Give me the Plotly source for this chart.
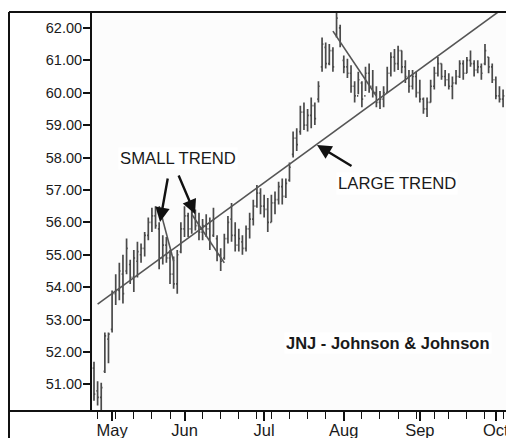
import pandas as pd
import plotly.graph_objects as go

# ---------------- data (JNJ daily bars) ----------------
start_date = "2009-04-24"
end_date = "2009-10-05"
holidays = ["2009-05-25", "2009-07-03", "2009-09-07"]

high = [51.70, 51.10, 51.05, 52.60, 52.60, 53.90, 54.40, 54.75, 55.00, 55.50,
        54.85, 55.15, 55.40, 55.35, 55.70, 56.15, 56.45, 56.50, 56.00, 55.60,
        55.55, 55.15, 54.95, 55.15, 56.00, 56.50, 56.30, 56.50, 56.40, 56.30,
        56.10, 56.25, 56.15, 56.45, 55.60, 55.20, 55.65, 56.20, 56.60, 56.00,
        55.80, 55.60, 55.90, 56.30, 56.70, 57.15, 57.05, 56.85, 56.75, 56.85,
        56.95, 57.25, 57.35, 57.35, 57.85, 58.80, 58.90, 59.60, 59.70, 59.50,
        59.85, 59.70, 60.35, 61.70, 61.55, 61.50, 61.40, 62.75, 62.10, 61.15,
        61.05, 60.85, 60.35, 60.65, 60.35, 60.80, 60.90, 60.70, 60.20, 60.05,
        60.20, 60.80, 61.25, 61.35, 61.45, 61.30, 61.00, 60.70, 60.70, 60.65,
        60.40, 59.85, 59.85, 60.40, 60.80, 61.10, 60.90, 60.70, 60.60, 60.50,
        60.70, 61.00, 61.00, 61.10, 61.30, 61.00, 61.00, 60.90, 61.50, 61.10,
        60.90, 60.50, 60.20, 60.10]
low = [50.50, 50.35, 50.20, 51.35, 51.65, 52.60, 53.45, 53.60, 53.50, 54.40,
       54.10, 53.85, 54.30, 54.75, 54.95, 55.45, 55.70, 55.80, 54.55, 54.70,
       54.75, 54.10, 53.95, 53.80, 55.05, 55.55, 55.55, 55.65, 55.75, 55.45,
       55.45, 55.55, 55.15, 55.55, 54.80, 54.50, 54.85, 55.35, 55.40, 55.10,
       55.10, 55.00, 55.10, 55.50, 55.90, 56.45, 56.25, 56.15, 55.70, 56.00,
       56.25, 56.55, 56.55, 56.75, 57.25, 58.00, 58.20, 58.70, 58.85, 58.80,
       58.90, 59.00, 59.70, 60.65, 60.75, 60.85, 60.65, 61.70, 61.40, 60.60,
       60.45, 60.00, 59.70, 59.95, 59.55, 60.05, 60.00, 59.85, 59.55, 59.50,
       59.55, 60.00, 60.50, 60.65, 60.70, 60.60, 60.30, 60.00, 60.10, 59.85,
       59.70, 59.35, 59.25, 59.70, 60.10, 60.50, 60.40, 60.20, 60.10, 59.80,
       60.25, 60.45, 60.40, 60.60, 60.80, 60.50, 60.60, 60.40, 60.85, 60.60,
       60.30, 59.80, 59.70, 59.55]
open_ = [51.50, 50.80, 50.60, 51.40, 52.40, 52.70, 53.80, 53.90, 54.40, 54.50,
         54.70, 54.30, 54.80, 55.00, 55.20, 55.60, 56.00, 56.20, 55.80, 54.90,
         55.30, 54.90, 54.40, 54.10, 55.10, 55.80, 56.20, 55.80, 56.30, 55.90,
         55.70, 55.90, 55.80, 55.60, 55.50, 55.00, 54.90, 55.50, 56.10, 55.60,
         55.30, 55.40, 55.20, 55.80, 56.10, 56.50, 56.90, 56.50, 56.40, 56.00,
         56.60, 56.70, 57.10, 56.80, 57.30, 58.10, 58.60, 58.80, 59.40, 59.00,
         59.30, 59.60, 59.80, 60.80, 61.40, 60.90, 61.30, 61.80, 62.00, 61.00,
         60.80, 60.60, 60.20, 59.90, 60.30, 59.90, 60.60, 60.20, 60.00, 59.70,
         59.80, 60.00, 60.60, 61.10, 60.90, 61.30, 60.80, 60.50, 60.20, 60.50,
         60.00, 59.80, 59.50, 59.70, 60.20, 60.60, 60.90, 60.50, 60.40, 60.20,
         60.30, 60.50, 60.90, 60.60, 61.00, 60.90, 60.70, 60.80, 60.90, 61.10,
         60.80, 60.40, 59.90, 59.80]
close = [50.70, 50.60, 50.90, 52.50, 52.55, 53.80, 53.90, 54.50, 53.80, 55.20,
         54.30, 54.90, 55.10, 55.20, 55.60, 56.00, 56.20, 55.90, 54.90, 55.30,
         54.90, 54.40, 54.10, 55.00, 55.80, 56.20, 55.80, 56.30, 55.90, 55.70,
         55.90, 55.80, 55.40, 56.10, 55.00, 54.80, 55.50, 56.00, 55.60, 55.30,
         55.50, 55.20, 55.80, 56.10, 56.50, 56.90, 56.50, 56.40, 56.00, 56.60,
         56.70, 57.10, 56.80, 57.20, 57.70, 58.60, 58.40, 59.40, 59.00, 59.30,
         59.60, 59.20, 60.20, 61.50, 60.90, 61.30, 60.80, 62.30, 61.50, 60.80,
         60.60, 60.20, 59.90, 60.40, 59.80, 60.60, 60.20, 60.00, 59.70, 59.80,
         60.00, 60.60, 61.10, 60.90, 61.30, 60.80, 60.50, 60.20, 60.50, 60.00,
         59.80, 59.50, 59.70, 60.20, 60.60, 60.90, 60.50, 60.40, 60.20, 60.30,
         60.50, 60.90, 60.60, 61.00, 60.90, 60.70, 60.80, 60.60, 61.30, 60.80,
         60.40, 59.90, 59.80, 59.90]

month_labels = ["May", "Jun", "Jul", "Aug", "Sep", "Oct"]
y_ticks = [51, 52, 53, 54, 55, 56, 57, 58, 59, 60, 61, 62]

# trend lines drawn on the chart: (date, price) end points
large_trend = [("2009-04-27", 53.48), ("2009-10-05", 62.60)]
small_trend_1 = [("2009-05-20", 56.50), ("2009-05-27", 54.80)]
small_trend_2 = [("2009-06-03", 56.25), ("2009-06-16", 54.75)]
aug_trend = [("2009-07-29", 61.90), ("2009-08-14", 59.90)]

# ---------------- figure ----------------
dates = pd.bdate_range(start_date, end_date, freq="C", holidays=holidays)
dates = list(dates[: len(high)])

fig = go.Figure()
fig.add_trace(go.Ohlc(
    x=dates, open=open_, high=high, low=low, close=close,
    increasing=dict(line=dict(color="#4a4a4a", width=1.7)),
    decreasing=dict(line=dict(color="#4a4a4a", width=1.7)),
    tickwidth=0.35, showlegend=False, hoverinfo="skip",
))

for seg in [large_trend, small_trend_1, small_trend_2, aug_trend]:
    (xa, ya), (xb, yb) = seg
    fig.add_shape(type="line", xref="x", yref="y", x0=xa, y0=ya, x1=xb, y1=yb,
                  line=dict(color="#555555", width=1.6), layer="above")

# month ticks: first trading day of each month
tickvals = []
for lab in month_labels:
    for d in dates:
        if d.strftime("%b") == lab:
            tickvals.append(d)
            break

W, H = 506, 438
L, R, T, B = 92, 0, 12, 27
pw, ph = W - L - R, H - T - B


def px(xp):
    return (xp - L) / pw


def py(yp):
    return (H - B - yp) / ph


font = "Liberation Sans, Arial, Helvetica, sans-serif"

# outer frame
frame = dict(color="#111111", width=2)
fig.add_shape(type="line", xref="paper", yref="paper", x0=px(9), x1=px(9),
              y0=py(440), y1=py(12), line=frame)
fig.add_shape(type="line", xref="paper", yref="paper", x0=px(9), x1=1.02,
              y0=py(12), y1=py(12), line=frame)
fig.add_shape(type="line", xref="paper", yref="paper", x0=px(9), x1=1.02,
              y0=py(411), y1=py(411), line=frame)

ann_font = dict(family=font, size=16.7, color="#1a1a1a")
fig.add_annotation(xref="paper", yref="paper", x=px(178), y=py(158),
                   xanchor="center", yanchor="middle",
                   text="SMALL TREND", showarrow=False, font=ann_font,
                   bgcolor="white")
fig.add_annotation(xref="paper", yref="paper", x=px(397), y=py(183),
                   xanchor="center", yanchor="middle",
                   text="LARGE TREND", showarrow=False, font=ann_font,
                   bgcolor="white")
fig.add_annotation(xref="paper", yref="paper", x=px(388), y=py(343),
                   xanchor="center", yanchor="middle",
                   text="<b>JNJ - Johnson &amp; Johnson</b>", showarrow=False,
                   font=dict(family=font, size=16.5, color="#1a1a1a"),
                   bgcolor="white")

arrow = dict(showarrow=True, arrowhead=2, arrowsize=1.2, arrowwidth=2.4,
             arrowcolor="#111111", text="", standoff=0, startstandoff=0)
fig.add_annotation(xref="paper", yref="paper", x=px(160), y=py(222),
                   ax=8, ay=-45, **arrow)
fig.add_annotation(xref="paper", yref="paper", x=px(195), y=py(214),
                   ax=-17, ay=-40, **arrow)
fig.add_annotation(xref="paper", yref="paper", x=px(317), y=py(145),
                   ax=36, ay=22, **arrow)

fig.update_layout(
    width=W, height=H,
    margin=dict(l=L, r=R, t=T, b=B, pad=0),
    paper_bgcolor="white", plot_bgcolor="#fcfcfc",
    showlegend=False,
    font=dict(family=font, color="#1a1a1a"),
)
fig.update_xaxes(
    rangeslider=dict(visible=False),
    rangebreaks=[dict(bounds=["sat", "mon"]), dict(values=holidays)],
    range=["2009-04-23 10:48", "2009-10-05 19:20"],
    tickvals=tickvals, ticktext=month_labels,
    ticks="outside", ticklen=9, tickwidth=1.5, tickcolor="#111111",
    tickfont=dict(family=font, size=16.5, color="#1a1a1a"),
    ticklabelstandoff=-5, ticklabeloverflow="allow",
    minor=dict(dtick=7 * 86400000, tick0="2009-04-27", ticks="outside",
               ticklen=7, tickwidth=1.3, tickcolor="#111111", showgrid=False),
    showgrid=False, zeroline=False, showline=False, automargin=False,
)
fig.update_yaxes(
    range=[50.18, 62.49],
    tickvals=y_ticks, tickformat=".2f",
    ticks="outside", ticklen=7, tickwidth=1.5, tickcolor="#111111",
    tickfont=dict(family=font, size=14.5, color="#1a1a1a"),
    ticklabelstandoff=-2,
    showgrid=False, zeroline=False, automargin=False,
    showline=True, linecolor="#111111", linewidth=2,
)

fig.write_html(
    "out.html",
    config={"displayModeBar": False},
    post_script="document.body.style.margin='0';document.body.style.padding='0';",
)
